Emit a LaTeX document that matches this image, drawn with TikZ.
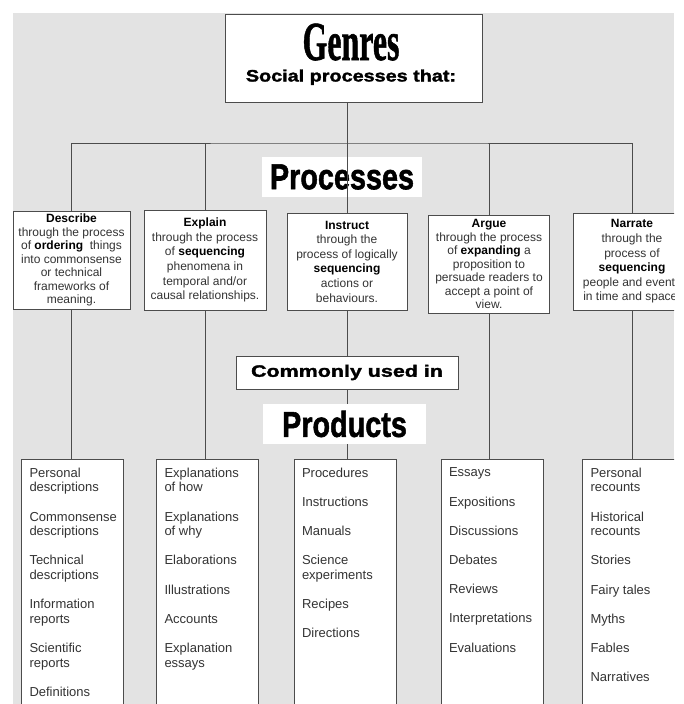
\documentclass[tikz,border=0pt]{standalone}
\usepackage{fontspec}
\setmainfont{Liberation Sans}
\newfontfamily\serifcond[BoldFeatures={FakeBold=1.2}]{Liberation Serif}
\newfontfamily\heavyfont[BoldFeatures={FakeBold=1.6}]{Liberation Sans}
\definecolor{BackClr}{rgb}{0.89,0.89,0.89}
\definecolor{LineClr}{rgb}{0.3,0.3,0.3}
\definecolor{TextClr}{rgb}{0.2,0.2,0.2}
\newcommand{\kw}[1]{\textcolor{black}{\textbf{#1}}}
\newcommand{\prodlist}[1]{\begin{minipage}[t][250pt][t]{86pt}\raggedright#1\end{minipage}}
\newcommand{\prodsep}{\\[14.6pt]}

\begin{document}
\begin{tikzpicture}[x=1pt,y=-1pt,
  box/.style={draw=LineClr,line width=0.8pt,fill=white},
  procbox/.style={box,align=center,text=TextClr,inner sep=2pt,minimum height=98,
    font=\fontsize{12}{14.6}\selectfont},
  sevenlines/.style={font=\fontsize{12}{13.5}\selectfont},
  listbox/.style={box,anchor=north,text=TextClr,inner xsep=8pt,inner ysep=8.5pt,
    font=\fontsize{13}{14.6}\selectfont},
  heading/.style={fill=white,inner sep=0pt,minimum height=40,
    font=\heavyfont\fontsize{36}{36}\selectfont\bfseries},
  blackhead/.style={font=\heavyfont\fontsize{16.5}{16.5}\selectfont\bfseries},
  link/.style={draw=LineClr,line width=0.8pt}]
\useasboundingbox (0,0) rectangle (684,704);
\fill[BackClr] (13,13) rectangle (674,704);

\begin{scope}
\clip (13,13) rectangle (674,704);

% genres
\node[box,minimum width=257,minimum height=88] (genres) at (353.5,58) {};
\node[anchor=base,inner sep=0pt] (genrestitle) at (351,60)
  {\serifcond\bfseries\fontsize{55}{55}\selectfont\scalebox{0.58}[1]{Genres}};
\node[anchor=base,inner sep=0pt,blackhead] (genressub) at (351,81.5)
  {\scalebox{1.2}[1]{Social processes that:}};

\node[heading,minimum width=160] (processes) at (342,177) {\scalebox{0.8}[1]{Processes}};

% the five processes
\node[procbox,sevenlines,minimum width=117] (describe) at (71.5,260)
  {\kw{Describe}\\through the process\\of \kw{ordering}~ things\\into commonsense\\or technical\\frameworks of\\meaning.};
\node[procbox,minimum width=122,minimum height=100] (explain) at (205,260)
  {\kw{Explain}\\through the process\\of \kw{sequencing}\\phenomena in\\temporal and/or\\causal relationships.};
\node[procbox,minimum width=120,minimum height=97] (instruct) at (347,261.5)
  {\kw{Instruct}\\through the\\process of logically\\\kw{sequencing}\\actions or\\behaviours.};
\node[procbox,sevenlines,minimum width=121] (argue) at (489,264)
  {\kw{Argue}\\through the process\\of \kw{expanding} a\\proposition to\\persuade readers to\\accept a point of\\view.};
\node[procbox,minimum width=118,minimum height=97] (narrate) at (632,261.5)
  {\kw{Narrate}\\through the\\process of\\\kw{sequencing}\\people and events\\in time and space.};

% products
\node[listbox] (descprod) at (72.5,459) {\prodlist{Personal\\descriptions\prodsep
  Commonsense\\descriptions\prodsep Technical\\descriptions\prodsep
  Information\\reports\prodsep Scientific\\reports\prodsep Definitions}};
\node[listbox] (explprod) at (207.5,459) {\prodlist{Explanations\\of how\prodsep
  Explanations\\of why\prodsep Elaborations\prodsep Illustrations\prodsep
  Accounts\prodsep Explanation\\essays}};
\node[listbox] (instprod) at (345,459) {\prodlist{Procedures\prodsep Instructions\prodsep
  Manuals\prodsep Science\\experiments\prodsep Recipes\prodsep Directions}};
\node[listbox] (argprod) at (492,459) {\prodlist{Essays\prodsep Expositions\prodsep
  Discussions\prodsep Debates\prodsep Reviews\prodsep Interpretations\prodsep Evaluations}};
\node[listbox] (narrprod) at (633.5,459) {\prodlist{Personal\\recounts\prodsep
  Historical\\recounts\prodsep Stories\prodsep Fairy tales\prodsep Myths\prodsep
  Fables\prodsep Narratives}};

% tree lines
\coordinate (bus) at (347,143);
\draw[link] (genres.south -| bus) -- (bus);
\draw[link] (describe.north) |- (bus) -| (narrate.north);
\draw[link] (explain.north) -- (explain.north |- bus);
\draw[link] (instruct.north) -- (bus);
\draw[link] (argue.north) -- (argue.north |- bus);

\draw[link] (describe.south) -- (describe.south |- descprod.north);
\draw[link] (explain.south) -- (explain.south |- explprod.north);
\draw[link] (instruct.south) -- (instruct.south |- instprod.north);
\draw[link] (argue.south) -- (argue.south |- argprod.north);
\draw[link] (narrate.south) -- (narrate.south |- narrprod.north);

% labels over the middle line
\node[box,minimum width=222,minimum height=33,blackhead] (common) at (347,372.5)
  {\scalebox{1.3}[1]{Commonly used in}};
\node[heading,minimum width=163] (products) at (344.5,424) {\scalebox{0.8}[1]{Products}};
\end{scope}
\end{tikzpicture}
\end{document}
